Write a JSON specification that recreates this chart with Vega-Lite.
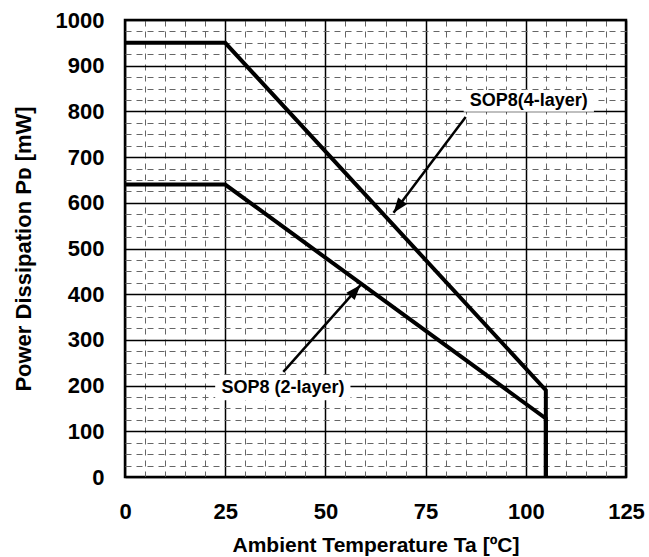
{
  "$schema": "https://vega.github.io/schema/vega-lite/v6.json",
  "autosize": "none",
  "padding": {"left": 125, "top": 20, "right": 23, "bottom": 80},
  "width": 501,
  "height": 457,
  "config": {
    "view": {"stroke": "black", "strokeWidth": 2.5},
    "font": "Liberation Sans"
  },
  "datasets": {
    "curves": [
      {"series": "4-layer", "order": 1, "ta": 0, "pd": 950},
      {"series": "4-layer", "order": 2, "ta": 25, "pd": 950},
      {"series": "4-layer", "order": 3, "ta": 105, "pd": 190},
      {"series": "4-layer", "order": 4, "ta": 105, "pd": 0},
      {"series": "2-layer", "order": 1, "ta": 0, "pd": 640},
      {"series": "2-layer", "order": 2, "ta": 25, "pd": 640},
      {"series": "2-layer", "order": 3, "ta": 105, "pd": 128},
      {"series": "2-layer", "order": 4, "ta": 105, "pd": 0}
    ],
    "notes": [
      {"series": "4-layer", "label": "SOP8(4-layer)", "lx": 100.75, "ly": 823, "bx1": 84.5, "bx2": 117, "by1": 799, "by2": 847, "sx": 85, "sy": 788, "tx": 67, "ty": 578},
      {"series": "2-layer", "label": "SOP8 (2-layer)", "lx": 39.4, "ly": 195.5, "bx1": 22.5, "bx2": 56.25, "by1": 168, "by2": 223, "sx": 39.5, "sy": 230, "tx": 58.75, "ty": 420}
    ]
  },
  "layer": [
    {
      "data": {"name": "curves"},
      "mark": {"type": "line", "color": "black", "strokeWidth": 4, "strokeJoin": "miter"},
      "encoding": {
        "x": {
          "field": "ta", "type": "quantitative",
          "scale": {"domain": [0, 125], "nice": false, "zero": false},
          "axis": {
            "values": [0,5,10,15,20,25,30,35,40,45,50,55,60,65,70,75,80,85,90,95,100,105,110,115,120,125],
            "tickCount": 500,
            "labelExpr": "datum.value % 25 === 0 ? format(datum.value, 'd') : ''",
            "grid": true,
            "gridColor": {"condition": {"test": "datum.value % 25 === 0", "value": "black"}, "value": "#666666"},
            "gridDash": {"condition": {"test": "datum.value % 25 === 0", "value": []}, "value": [6, 5]},
            "gridWidth": {"condition": {"test": "datum.value % 25 === 0", "value": 1.5}, "value": 1},
            "gridOpacity": 1,
            "domain": false,
            "ticks": false,
            "labelPadding": 24,
            "labelFont": "Liberation Sans",
            "labelFontWeight": "bold",
            "labelFontSize": 22,
            "labelColor": "black",
            "labelFlush": false,
            "labelOverlap": false,
            "title": "Ambient Temperature Ta [ºC]",
            "titleFont": "Liberation Sans",
            "titleFontWeight": "bold",
            "titleFontSize": 21,
            "titleColor": "black",
            "titleBaseline": "alphabetic",
            "titleY": 74
          }
        },
        "y": {
          "field": "pd", "type": "quantitative",
          "scale": {"domain": [0, 1000], "nice": false},
          "axis": {
            "values": [0,25,50,75,100,125,150,175,200,225,250,275,300,325,350,375,400,425,450,475,500,525,550,575,600,625,650,675,700,725,750,775,800,825,850,875,900,925,950,975,1000],
            "tickCount": 500,
            "labelExpr": "datum.value % 100 === 0 ? format(datum.value, 'd') : ''",
            "grid": true,
            "gridColor": {"condition": {"test": "datum.value % 100 === 0", "value": "black"}, "value": "#666666"},
            "gridDash": {"condition": {"test": "datum.value % 100 === 0", "value": []}, "value": [6, 5]},
            "gridWidth": {"condition": {"test": "datum.value % 100 === 0", "value": 1.5}, "value": 1},
            "gridOpacity": 1,
            "domain": false,
            "ticks": false,
            "labelPadding": 21,
            "labelFont": "Liberation Sans",
            "labelFontWeight": "bold",
            "labelFontSize": 22,
            "labelColor": "black",
            "labelFlush": false,
            "labelOverlap": false,
            "title": "Power Dissipation Pᴅ [mW]",
            "titleFont": "Liberation Sans",
            "titleFontWeight": "bold",
            "titleFontSize": 22,
            "titleColor": "black",
            "titlePadding": 20
          }
        },
        "detail": {"field": "series"},
        "order": {"field": "order"}
      }
    },
    {
      "data": {"name": "notes"},
      "mark": {"type": "rect", "fill": "white"},
      "encoding": {
        "x": {"field": "bx1", "type": "quantitative"},
        "x2": {"field": "bx2"},
        "y": {"field": "by1", "type": "quantitative"},
        "y2": {"field": "by2"}
      }
    },
    {
      "data": {"name": "notes"},
      "mark": {"type": "rule", "color": "black", "strokeWidth": 2.5},
      "encoding": {
        "x": {"field": "sx", "type": "quantitative"},
        "y": {"field": "sy", "type": "quantitative"},
        "x2": {"field": "tx"},
        "y2": {"field": "ty"}
      }
    },
    {
      "data": {"name": "notes"},
      "transform": [{"filter": "datum.series === '4-layer'"}],
      "mark": {"type": "point", "shape": "M0,0L-0.55,1.5L0.55,1.5Z", "filled": true, "color": "black", "opacity": 1, "size": 400, "angle": 216.87},
      "encoding": {
        "x": {"field": "tx", "type": "quantitative"},
        "y": {"field": "ty", "type": "quantitative"}
      }
    },
    {
      "data": {"name": "notes"},
      "transform": [{"filter": "datum.series === '2-layer'"}],
      "mark": {"type": "point", "shape": "M0,0L-0.55,1.5L0.55,1.5Z", "filled": true, "color": "black", "opacity": 1, "size": 400, "angle": 41.5},
      "encoding": {
        "x": {"field": "tx", "type": "quantitative"},
        "y": {"field": "ty", "type": "quantitative"}
      }
    },
    {
      "data": {"name": "notes"},
      "mark": {"type": "text", "font": "Liberation Sans", "fontWeight": "bold", "fontSize": 18, "color": "black", "align": "center", "baseline": "middle"},
      "encoding": {
        "x": {"field": "lx", "type": "quantitative"},
        "y": {"field": "ly", "type": "quantitative"},
        "text": {"field": "label"}
      }
    }
  ]
}
